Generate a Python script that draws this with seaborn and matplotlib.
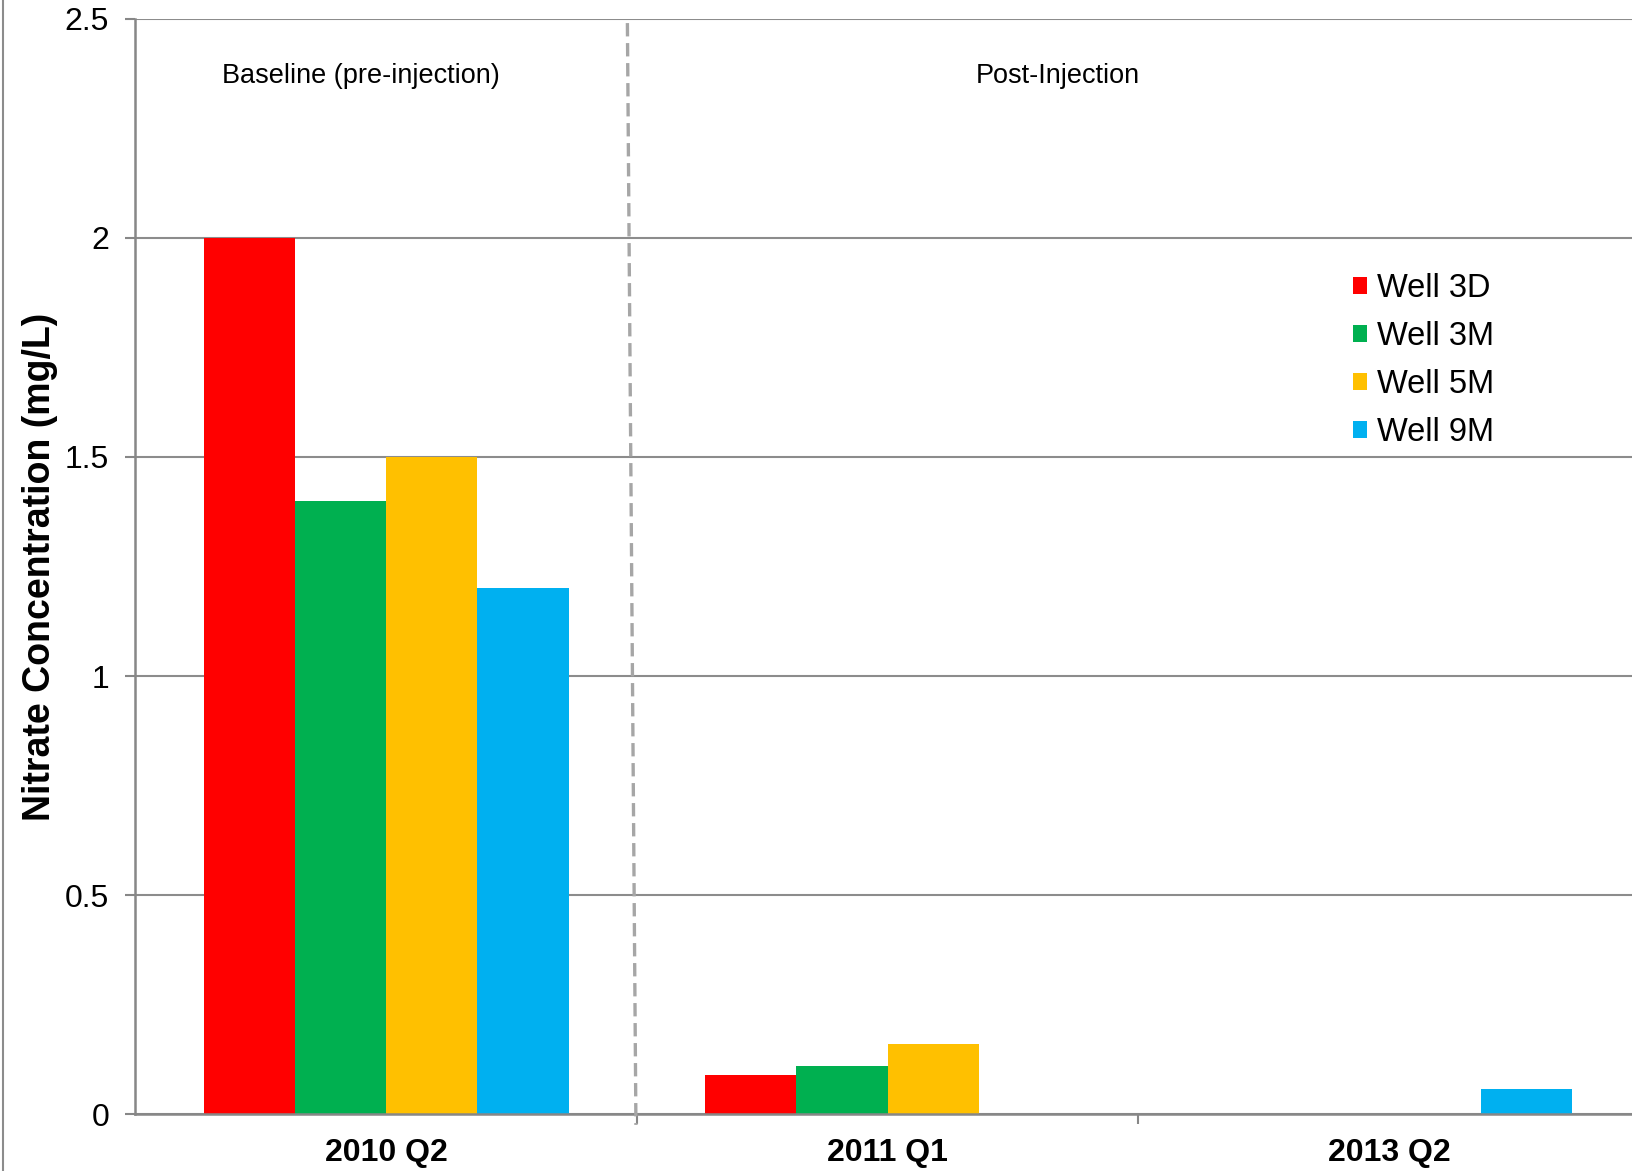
import matplotlib
matplotlib.use("Agg")
import matplotlib.pyplot as plt
import seaborn as sns
import pandas as pd
import numpy as np
from matplotlib.lines import Line2D

# ---- data ----
periods = ["2010 Q2", "2011 Q1", "2013 Q2"]
wells = ["Well 3D", "Well 3M", "Well 5M", "Well 9M"]
well_3d = [2.0, 0.09, np.nan]
well_3m = [1.4, 0.11, np.nan]
well_5m = [1.5, 0.16, np.nan]
well_9m = [1.2, np.nan, 0.057]
colors = ["#FF0000", "#00B050", "#FFC000", "#00B0F0"]
y_ticks = [0, 0.5, 1, 1.5, 2, 2.5]
y_tick_labels = ["0", "0.5", "1", "1.5", "2", "2.5"]
phase_labels = ["Baseline (pre-injection)", "Post-Injection"]

rows = []
for w, vals in zip(wells, [well_3d, well_3m, well_5m, well_9m]):
    for p, v in zip(periods, vals):
        rows.append({"Period": p, "Well": w, "Nitrate": v})
df = pd.DataFrame(rows)

sns.set_theme(style="white")
plt.rcParams["font.family"] = ["Liberation Sans", "DejaVu Sans"]
plt.rcParams["text.color"] = "black"
plt.rcParams["axes.labelcolor"] = "black"

W, H = 1633, 1171
fig = plt.figure(figsize=(W / 100, H / 100), dpi=100)
ax = fig.add_axes([135.4 / W, (H - 1114.4) / H, (1640 - 135.4) / W, (1114.4 - 18.7) / H])

sns.barplot(data=df, x="Period", y="Nitrate", hue="Well", order=periods,
            hue_order=wells, palette=colors, width=0.728, gap=0,
            saturation=1, ax=ax, linewidth=0, legend=True)

ax.set_xlim(-0.5, 2.5)
ax.set_ylim(0, 2.5)
ax.set_yticks(y_ticks)
ax.set_yticklabels(y_tick_labels)
ax.yaxis.grid(True, color="#8C8C8C", linewidth=1.5)
ax.set_axisbelow(True)

grey = "#878787"
for s in ["top", "right"]:
    ax.spines[s].set_visible(False)
for s in ["left", "bottom"]:
    ax.spines[s].set_color(grey)
    ax.spines[s].set_linewidth(1.8)

ax.tick_params(axis="y", which="major", left=True, length=7, width=1.5,
               color=grey, labelsize=23, pad=12, labelcolor="black")
ax.set_xticks(range(len(periods)))
ax.set_xticklabels(periods, fontweight="bold", fontsize=23)
ax.tick_params(axis="x", which="major", length=0, pad=17, labelcolor="black")
ax.set_xticks([0.5, 1.5], minor=True)
ax.tick_params(axis="x", which="minor", bottom=True, length=7, width=1.5, color=grey)

ax.set_xlabel("")
ax.set_ylabel("Nitrate Concentration (mg/L)", fontsize=27, fontweight="bold",
              labelpad=5, color="black")

# dashed divider
ax.plot([0.481, 0.498], [2.49, -0.024], color="#A6A6A6", linewidth=2.4,
        linestyle=(0, (4, 2)), clip_on=False, zorder=5)

# phase labels
ax.text(-0.05, 2.37, phase_labels[0], ha="center", va="center", fontsize=19.5,
        color="black")
ax.text(1.34, 2.37, phase_labels[1], ha="center", va="center", fontsize=19.5,
        color="black")

# legend
handles, labels = ax.get_legend_handles_labels()
ax.legend(handles, labels, loc="upper left",
          bbox_to_anchor=(1324 / W, 1 - 244 / H), bbox_transform=fig.transFigure,
          frameon=False, fontsize=23.5, handlelength=0.42, handleheight=0.42,
          handletextpad=0.3, labelspacing=0.52, labelcolor="black")

# outer frame line at left
fig.add_artist(Line2D([3 / W, 3 / W], [0, 1], transform=fig.transFigure,
                      color="#8C8C8C", linewidth=1.5))

fig.savefig("out.png", dpi=100)
